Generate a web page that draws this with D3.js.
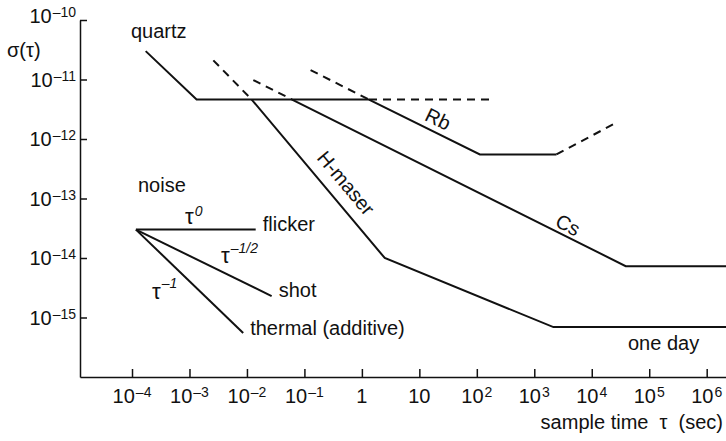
<!DOCTYPE html>
<html>
<head>
<meta charset="utf-8">
<script src="https://cdnjs.cloudflare.com/ajax/libs/d3/7.8.5/d3.min.js"></script>
<style>
    body { margin: 0; background: #fff; }
    svg { display: block; font-family: "Liberation Sans", Arial, Helvetica, sans-serif; }
</style>
</head>
<body>
<svg width="726" height="441"></svg>
<script>
// sample time tau (sec) vs sigma(tau)
let quartzSolid = [[1.73e-4, 3.0e-11], [1.33e-3, 4.6e-12], [1.33, 4.6e-12]];
let quartzDashed = [[1.33, 4.6e-12], [163, 4.6e-12]];
let maserDashed = [[2.6e-3, 2.1e-11], [1.21e-2, 4.6e-12]];
let maserSolid = [[1.21e-2, 4.6e-12], [2.5, 1.0e-14], [2.15e3, 6.9e-16], [2.2e6, 6.9e-16]];
let csDashed = [[1.29e-2, 9.8e-12], [6.1e-2, 4.6e-12]];
let csSolid = [[6.1e-2, 4.6e-12], [3.9e4, 7.3e-15], [2.2e6, 7.3e-15]];
let rbDashed = [[0.128, 1.44e-11], [1.33, 4.6e-12]];
let rbSolid = [[1.33, 4.6e-12], [113, 5.5e-13], [2.43e3, 5.5e-13]];
let rbDashedEnd = [[2.43e3, 5.5e-13], [2.78e4, 1.92e-12]];

// noise fan: flicker, shot, thermal
let noiseOrigin = [1.17e-4, 3.0e-14];
let noiseEnds = [[1.42e-2, 3.0e-14], [2.69e-2, 2.29e-15], [8.6e-3, 5.5e-16]];

let xTicks = [1e-4, 1e-3, 1e-2, 1e-1, 1, 10, 1e2, 1e3, 1e4, 1e5, 1e6];
let xTickLabels = [["10", "–4"], ["10", "–3"], ["10", "–2"], ["10", "–1"], ["1", ""], ["10", ""],
    ["10", "2"], ["10", "3"], ["10", "4"], ["10", "5"], ["10", "6"]];
let yTicks = [1e-10, 1e-11, 1e-12, 1e-13, 1e-14, 1e-15];
let yTickLabels = ["–10", "–11", "–12", "–13", "–14", "–15"];

let svg = d3.select("svg");

let x = d3.scaleLog()
    .domain([Math.pow(10, -4.905), Math.pow(10, 6.336)])
    .range([80, 726]);

let y = d3.scaleLog()
    .domain([1e-16, 1e-10])
    .range([377, 20]);

// axes, ticks point inward
svg.append("g")
    .attr("transform", "translate(0,377)")
    .call(d3.axisBottom(x).tickValues(xTicks).tickSizeInner(-8).tickSizeOuter(0).tickFormat(""));

svg.append("g")
    .attr("transform", "translate(80,0)")
    .call(d3.axisLeft(y).tickValues(yTicks).tickSizeInner(-7).tickSizeOuter(0).tickFormat(""));

svg.selectAll(".domain, .tick line")
    .attr("stroke", "#111")
    .attr("stroke-width", 1.5);

// tick labels with superscripts
let xl = svg.append("g").selectAll("text")
    .data(xTicks)
    .enter().append("text")
    .attr("x", d => x(d))
    .attr("y", 403)
    .attr("text-anchor", "middle")
    .attr("fill", "#111");
xl.append("tspan").style("font-size", "20px").text((d, i) => xTickLabels[i][0]);
xl.append("tspan").style("font-size", "14px").attr("dx", 1).attr("dy", -6).text((d, i) => xTickLabels[i][1]);

let yl = svg.append("g").selectAll("text")
    .data(yTicks)
    .enter().append("text")
    .attr("x", 76)
    .attr("y", (d, i) => y(d) + (i === 0 ? 3 : 7))
    .attr("text-anchor", "end")
    .attr("fill", "#111");
yl.append("tspan").style("font-size", "20px").text("10");
yl.append("tspan").style("font-size", "14px").attr("dx", 1).attr("dy", -6).text((d, i) => yTickLabels[i]);

// curves
let line = d3.line()
    .x(d => x(d[0]))
    .y(d => y(d[1]));

let solids = [quartzSolid, maserSolid, csSolid, rbSolid];
let dashes = [quartzDashed, maserDashed, csDashed, rbDashed, rbDashedEnd];

svg.append("g").selectAll("path")
    .data(solids)
    .enter().append("path")
    .attr("d", line)
    .attr("fill", "none")
    .attr("stroke", "#111")
    .attr("stroke-width", 2);

svg.append("g").selectAll("path")
    .data(dashes)
    .enter().append("path")
    .attr("d", line)
    .attr("fill", "none")
    .attr("stroke", "#111")
    .attr("stroke-width", 2)
    .attr("stroke-dasharray", "8,6");

svg.append("g").selectAll("path")
    .data(noiseEnds)
    .enter().append("path")
    .attr("d", d => line([noiseOrigin, d]))
    .attr("fill", "none")
    .attr("stroke", "#111")
    .attr("stroke-width", 2);

// labels
function label(txt, px, py, size) {
    return svg.append("text")
        .attr("x", px)
        .attr("y", py)
        .attr("fill", "#111")
        .style("font-size", (size || 20) + "px")
        .text(txt);
}

label("σ(τ)", 7, 57);
label("quartz", 131, 38);
label("noise", 138, 192);
label("flicker", x(noiseEnds[0][0]) + 7, y(noiseEnds[0][1]) + 1);
label("shot", x(noiseEnds[1][0]) + 7, y(noiseEnds[1][1]) + 1);
label("thermal (additive)", x(noiseEnds[2][0]) + 7, y(noiseEnds[2][1]) + 2);
label("one day", 628, 350);

function rotLabel(txt, px, py, angle) {
    svg.append("text")
        .attr("transform", "translate(" + px + "," + py + ") rotate(" + angle + ")")
        .attr("text-anchor", "middle")
        .attr("dominant-baseline", "central")
        .attr("fill", "#111")
        .style("font-size", "20px")
        .text(txt);
}

rotLabel("Rb", 438, 119, 26);
rotLabel("Cs", 568, 225, 26.5);
rotLabel("H-maser", 346, 183, 50);

// tau powers on the noise fan
function tauLabel(sup, px, py, supDy) {
    let t = svg.append("text")
        .attr("x", px)
        .attr("y", py)
        .attr("fill", "#111");
    t.append("tspan").style("font-size", "22px").text("τ");
    t.append("tspan").style("font-size", "14px").style("font-style", "italic")
        .attr("dx", 1).attr("dy", supDy).text(sup);
}

tauLabel("0", 185, 224, -8);
tauLabel("–1/2", 221, 263, -10);
tauLabel("–1", 152, 299, -11);

// x axis title
svg.append("text")
    .attr("x", 723)
    .attr("y", 429)
    .attr("text-anchor", "end")
    .attr("fill", "#111")
    .style("font-size", "20px")
    .style("white-space", "pre")
    .text("sample time  τ  (sec)");
</script>
</body>
</html>
